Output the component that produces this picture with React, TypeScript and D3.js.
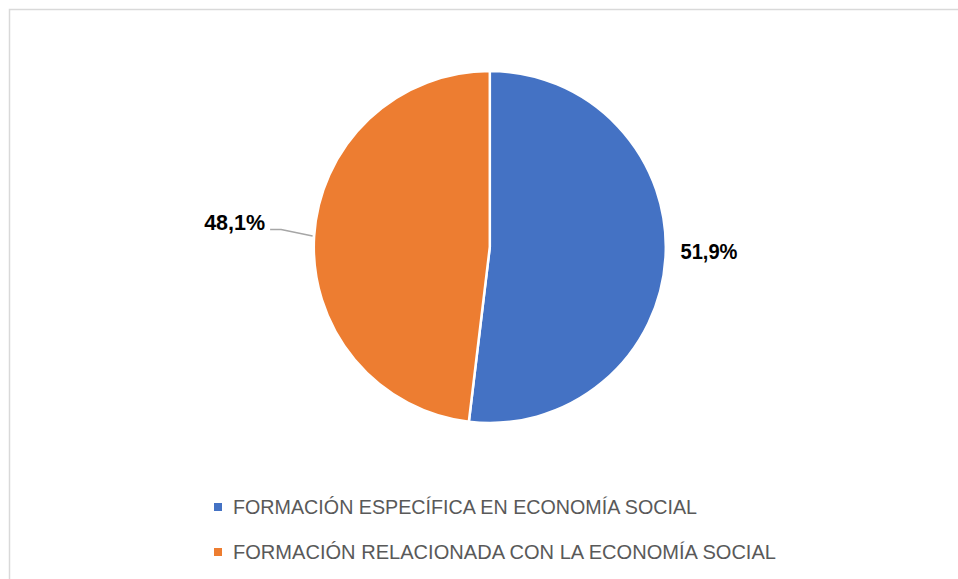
import React from "react";
import * as d3 from "d3";

const categories = [
  "FORMACIÓN ESPECÍFICA EN ECONOMÍA SOCIAL",
  "FORMACIÓN RELACIONADA CON LA ECONOMÍA SOCIAL",
];
const values = [51.9, 48.1];
const labels = ["51,9%", "48,1%"];
const colors = ["#4472C4", "#ED7D31"];

const W = 958;
const H = 579;
const cx = 489.8;
const cy = 247;
const R = 176;

export default function App() {
  const pie = d3
    .pie<number>()
    .sort(null)
    .startAngle(0)
    .endAngle(2 * Math.PI)
    .value((d) => d);
  const arcs = pie(values);
  const arcGen = d3.arc<d3.PieArcDatum<number>>().innerRadius(0).outerRadius(R);

  const edge = (a: d3.PieArcDatum<number>) => {
    const m = (a.startAngle + a.endAngle) / 2;
    return [cx + R * Math.sin(m), cy - R * Math.cos(m)];
  };

  const e0 = edge(arcs[0]);
  const e1 = edge(arcs[1]);

  return (
    <svg
      width={W}
      height={H}
      style={{ position: "absolute", left: 0, top: 0 }}
      fontFamily="'Liberation Sans', Arial, sans-serif"
    >
      <rect x={0} y={0} width={W} height={H} fill="#fff" />
      <rect
        x={9.5}
        y={9.5}
        width={W + 20}
        height={H + 20}
        fill="none"
        stroke="#d9d9d9"
        strokeWidth={1.5}
      />
      <g transform={`translate(${cx},${cy})`}>
        {arcs.map((a, i) => (
          <path
            key={i}
            d={arcGen(a) || ""}
            fill={colors[i]}
            stroke="#fff"
            strokeWidth={2.5}
            strokeLinejoin="round"
          />
        ))}
      </g>
      <polyline
        points={`${e1[0] - 1.5},${e1[1] - 0.5} ${e1[0] - 33},${e1[1] - 7} ${e1[0] - 44},${e1[1] - 7}`}
        fill="none"
        stroke="#a6a6a6"
        strokeWidth={1.5}
      />
      <text
        x={e0[0] + 15}
        y={e0[1] + 2}
        fontSize={21.5}
        fontWeight="bold"
        fill="#000"
        textLength={57}
        lengthAdjust="spacingAndGlyphs"
      >
        {labels[0]}
      </text>
      <text
        x={e1[0] - 49}
        y={e1[1] - 6.5}
        fontSize={21.5}
        fontWeight="bold"
        fill="#000"
        textAnchor="end"
      >
        {labels[1]}
      </text>
      {categories.map((c, i) => {
        const y = 514 + i * 45;
        return (
          <g key={c}>
            <rect x={214} y={y - 11} width={8} height={8} fill={colors[i]} />
            <text
              x={233}
              y={y}
              fontSize={21}
              fill="#595959"
              textLength={i === 0 ? 464 : 543}
              lengthAdjust="spacingAndGlyphs"
            >
              {c}
            </text>
          </g>
        );
      })}
    </svg>
  );
}
